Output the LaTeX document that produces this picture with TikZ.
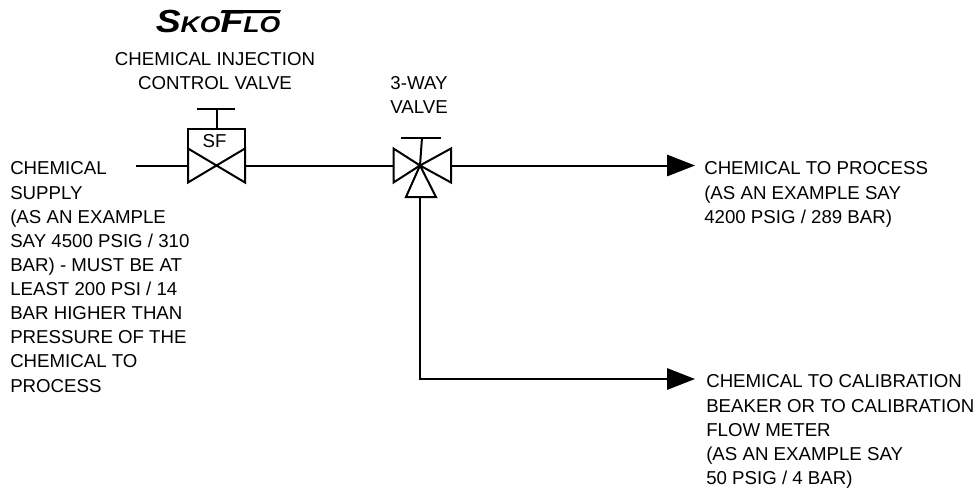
\documentclass[tikz,border=0pt]{standalone}
\usepackage{fontspec}
\setmainfont{Liberation Sans}
\newfontfamily\logofont[FakeStretch=1.17]{Liberation Sans}
\usetikzlibrary{arrows.meta}
\tikzset{
  pipe/.style={line width=1.5pt},
  txt/.style={font=\fontsize{14}{18.1}\selectfont, align=left, inner sep=0pt},
  flowtip/.style={-{Triangle[length=21pt,width=16pt]}, line width=1.5pt},
}
\newcommand{\logobig}{\fontsize{24}{24}\selectfont}
\newcommand{\logosmall}{\fontsize{17}{17}\selectfont}
\begin{document}
\begin{tikzpicture}[x=0.75pt,y=-0.75pt]
  \useasboundingbox (0,0) rectangle (975,489);
  % logo and labels
  \node (LOGO) at (218,21) {\logofont\bfseries\itshape\logobig S\logosmall KO\logobig F\logosmall LO};
  \fill (222,10) -- (281,10) -- (279.5,13) -- (220.5,13) -- cycle;
  \node [txt, align=center] (VT) at (215,71) {CHEMICAL INJECTION\\CONTROL VALVE};
  \node [txt, align=center] (WT) at (419,95) {3-WAY\\VALVE};
  \node [txt, anchor=north west] (SUP) at (10,161.6) {CHEMICAL\\SUPPLY\\(AS AN EXAMPLE\\SAY 4500 PSIG / 310\\BAR) - MUST BE AT\\LEAST 200 PSI / 14\\BAR HIGHER THAN\\PRESSURE OF THE\\CHEMICAL TO\\PROCESS};
  \node [txt, anchor=north west] (PRO) at (704,161.6) {CHEMICAL TO PROCESS\\(AS AN EXAMPLE SAY\\4200 PSIG / 289 BAR)};
  \node [txt, anchor=north west] (CAL) at (706,374.6) {CHEMICAL TO CALIBRATION\\BEAKER OR TO CALIBRATION\\FLOW METER\\(AS AN EXAMPLE SAY\\50 PSIG / 4 BAR)};
  % first valve
  \coordinate (IN) at (136,165.5);
  \coordinate (AL) at (188,165.5);
  \coordinate (AR) at (245,165.5);
  \coordinate (AC) at (216.5,165.5);
  \draw [pipe, line join=miter] (188,148.5) -- (245,182.5) -- (245,148.5) -- (188,182.5) -- cycle;
  \draw [pipe] (188,148.5) -- (188,129) -- (245,129) -- (245,148.5);
  \draw [pipe] (216.5,129) -- (216.5,109);
  \draw [pipe] (197,109) -- (235,109);
  \node [font=\fontsize{14}{14}\selectfont, inner sep=0pt] (SF) at (214.5,141) {SF};
  % second valve
  \coordinate (BL) at (393.5,165.5);
  \coordinate (BR) at (451,165.5);
  \coordinate (BC) at (420,165.5);
  \coordinate (BB) at (420,197);
  \draw [pipe] (BC) -- (393.5,148.5) -- (393.5,182.5) -- cycle;
  \draw [pipe] (BC) -- (451,148.5) -- (451,182.5) -- cycle;
  \draw [pipe] (BC) -- (406,197) -- (436,197) -- cycle;
  \draw [pipe] (BC) -- (422,137.5);
  \draw [pipe] (401,137.5) -- (441,137.5);
  % lines
  \coordinate (OUTA) at (695,165.5);
  \coordinate (COR) at (420,379);
  \coordinate (OUTB) at (695,379);
  \draw [pipe] (IN) -- (AL);
  \draw [pipe] (AR) -- (BL);
  \draw [flowtip] (BR) -- (OUTA);
  \draw [flowtip] (BB) -- (COR) -- (OUTB);
\end{tikzpicture}
\end{document}
